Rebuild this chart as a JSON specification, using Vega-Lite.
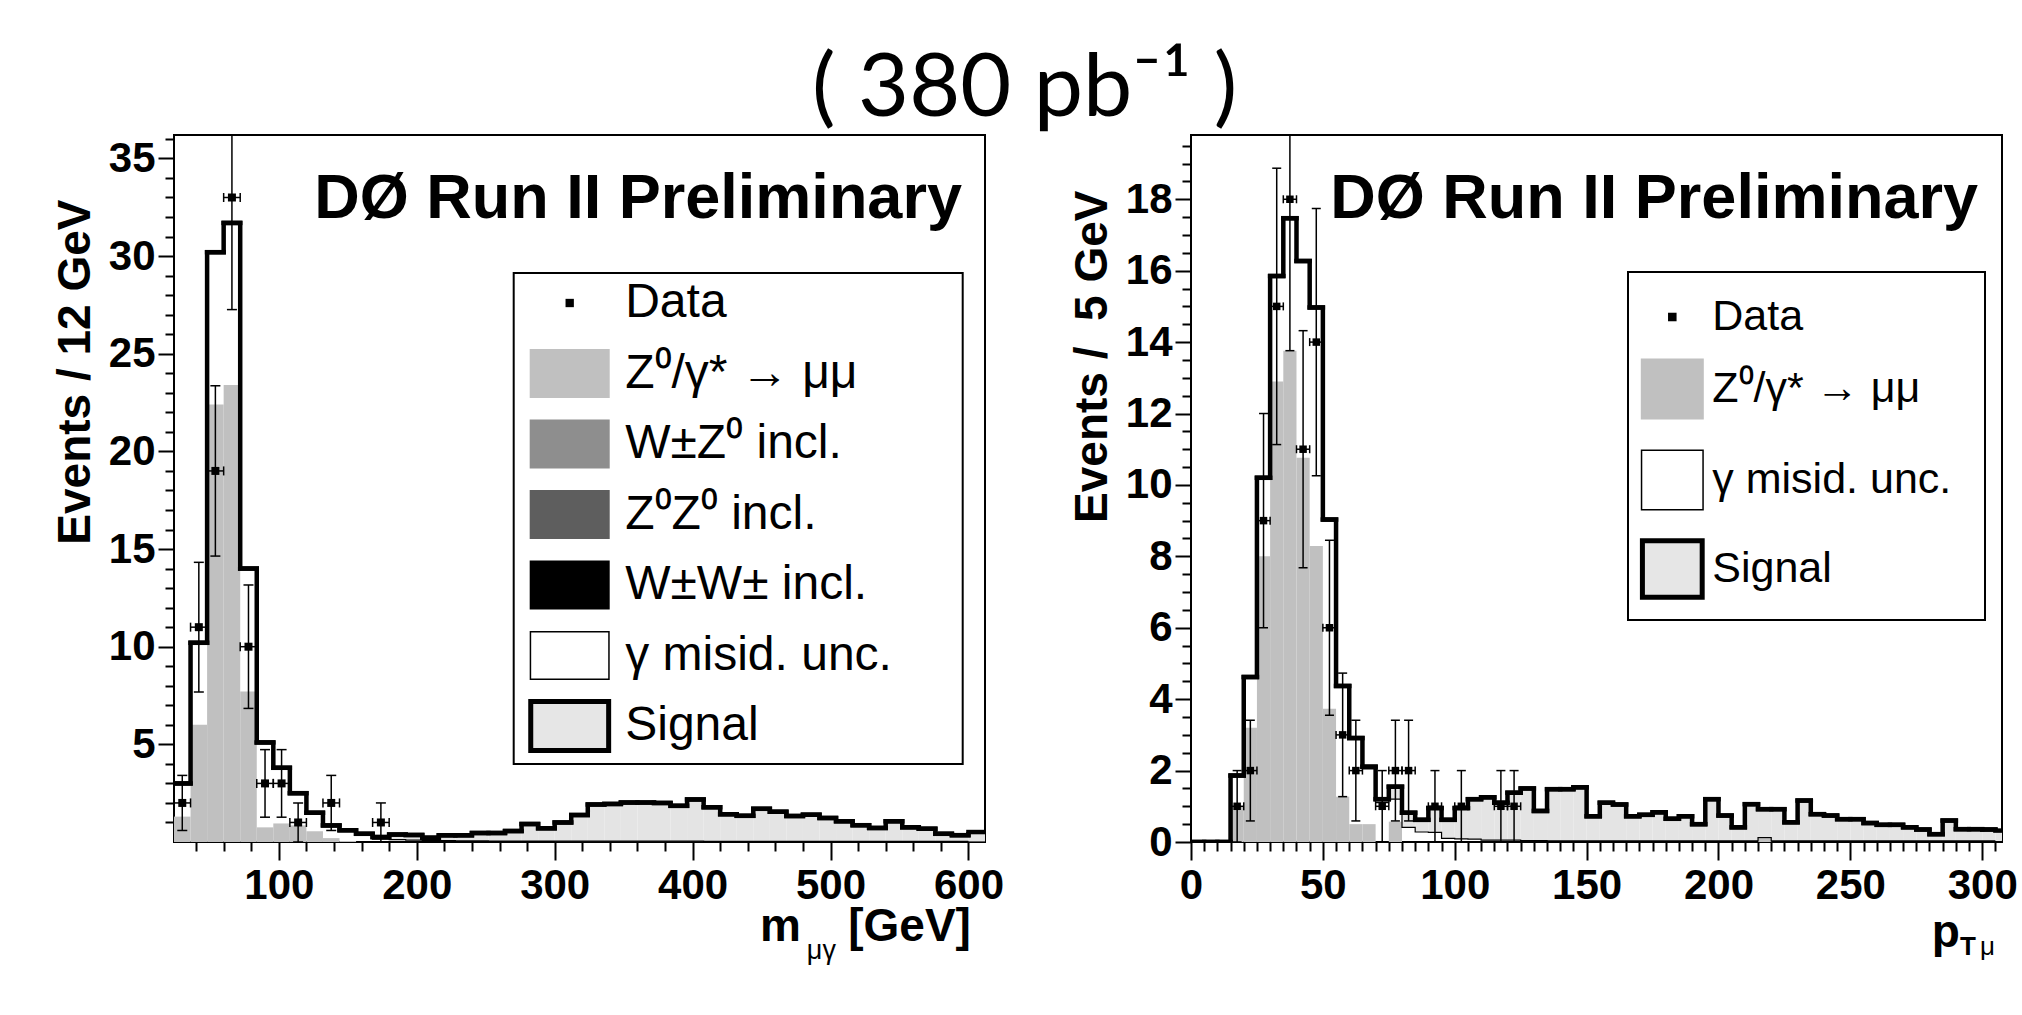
{
  "$schema": "https://vega.github.io/schema/vega-lite/v6.json",
  "background": "white",
  "padding": {"left": 51, "top": 46, "right": 4, "bottom": 4},
  "title": {"text": "( 380 pb⁻¹ )", "font": "Lato", "fontSize": 88, "fontWeight": "normal", "color": "black", "anchor": "middle", "baseline": "alphabetic", "offset": -70, "dx": -10},
  "datasets": {
    "leftBins": [
      {"lo":24,"hi":36,"z":1.3,"bkg":3.0,"tot":3.0},
      {"lo":36,"hi":48,"z":6.0,"bkg":10.2,"tot":10.2},
      {"lo":48,"hi":60,"z":22.4,"bkg":30.2,"tot":30.2},
      {"lo":60,"hi":72,"z":23.4,"bkg":31.7,"tot":31.7},
      {"lo":72,"hi":84,"z":7.7,"bkg":14.0,"tot":14.0},
      {"lo":84,"hi":96,"z":0.75,"bkg":5.1,"tot":5.1},
      {"lo":96,"hi":108,"z":0.95,"bkg":3.8,"tot":3.8},
      {"lo":108,"hi":120,"z":0.85,"bkg":2.5,"tot":2.5},
      {"lo":120,"hi":132,"z":0.55,"bkg":1.5,"tot":1.5},
      {"lo":132,"hi":144,"z":0.2,"bkg":0.85,"tot":0.85},
      {"lo":144,"hi":156,"z":0.05,"bkg":0.55,"tot":0.6},
      {"lo":156,"hi":168,"z":0,"bkg":0.35,"tot":0.42},
      {"lo":168,"hi":180,"z":0,"bkg":0.15,"tot":0.25},
      {"lo":180,"hi":192,"z":0,"bkg":0.12,"tot":0.38},
      {"lo":192,"hi":204,"z":0,"bkg":0.1,"tot":0.36},
      {"lo":204,"hi":216,"z":0,"bkg":0.08,"tot":0.22},
      {"lo":216,"hi":228,"z":0,"bkg":0.07,"tot":0.34},
      {"lo":228,"hi":240,"z":0,"bkg":0.06,"tot":0.34},
      {"lo":240,"hi":252,"z":0,"bkg":0.06,"tot":0.46},
      {"lo":252,"hi":264,"z":0,"bkg":0.05,"tot":0.46},
      {"lo":264,"hi":276,"z":0,"bkg":0.05,"tot":0.56},
      {"lo":276,"hi":288,"z":0,"bkg":0.05,"tot":0.92},
      {"lo":288,"hi":300,"z":0,"bkg":0.05,"tot":0.7},
      {"lo":300,"hi":312,"z":0,"bkg":0.04,"tot":1.0},
      {"lo":312,"hi":324,"z":0,"bkg":0.04,"tot":1.38},
      {"lo":324,"hi":336,"z":0,"bkg":0.04,"tot":1.92},
      {"lo":336,"hi":348,"z":0,"bkg":0.04,"tot":1.95},
      {"lo":348,"hi":360,"z":0,"bkg":0.04,"tot":2.02},
      {"lo":360,"hi":372,"z":0,"bkg":0.04,"tot":2.02},
      {"lo":372,"hi":384,"z":0,"bkg":0.04,"tot":2.0},
      {"lo":384,"hi":396,"z":0,"bkg":0.04,"tot":1.85},
      {"lo":396,"hi":408,"z":0,"bkg":0.04,"tot":2.18},
      {"lo":408,"hi":420,"z":0,"bkg":0.03,"tot":1.78},
      {"lo":420,"hi":432,"z":0,"bkg":0.03,"tot":1.42},
      {"lo":432,"hi":444,"z":0,"bkg":0.03,"tot":1.34},
      {"lo":444,"hi":456,"z":0,"bkg":0.03,"tot":1.7},
      {"lo":456,"hi":468,"z":0,"bkg":0.03,"tot":1.55},
      {"lo":468,"hi":480,"z":0,"bkg":0.03,"tot":1.33},
      {"lo":480,"hi":492,"z":0,"bkg":0.03,"tot":1.4},
      {"lo":492,"hi":504,"z":0,"bkg":0.03,"tot":1.23},
      {"lo":504,"hi":516,"z":0,"bkg":0.03,"tot":1.06},
      {"lo":516,"hi":528,"z":0,"bkg":0.03,"tot":0.86},
      {"lo":528,"hi":540,"z":0,"bkg":0.03,"tot":0.72},
      {"lo":540,"hi":552,"z":0,"bkg":0.03,"tot":1.06},
      {"lo":552,"hi":564,"z":0,"bkg":0.03,"tot":0.75},
      {"lo":564,"hi":576,"z":0,"bkg":0.03,"tot":0.68},
      {"lo":576,"hi":588,"z":0,"bkg":0.03,"tot":0.42},
      {"lo":588,"hi":600,"z":0,"bkg":0.03,"tot":0.35},
      {"lo":600,"hi":612,"z":0,"bkg":0.03,"tot":0.51}
    ],
    "leftData": [
      {"x":30,"xl":24,"xh":36,"n":2,"lo":0.59,"hi":3.41},
      {"x":42,"xl":36,"xh":48,"n":11,"lo":7.68,"hi":14.32},
      {"x":54,"xl":48,"xh":60,"n":19,"lo":14.64,"hi":23.36},
      {"x":66,"xl":60,"xh":72,"n":33,"lo":27.26,"hi":38.74},
      {"x":78,"xl":72,"xh":84,"n":10,"lo":6.84,"hi":13.16},
      {"x":90,"xl":84,"xh":96,"n":3,"lo":1.27,"hi":4.73},
      {"x":102,"xl":96,"xh":108,"n":3,"lo":1.27,"hi":4.73},
      {"x":114,"xl":108,"xh":120,"n":1,"lo":0,"hi":2},
      {"x":138,"xl":132,"xh":144,"n":2,"lo":0.59,"hi":3.41},
      {"x":174,"xl":168,"xh":180,"n":1,"lo":0,"hi":2}
    ],
    "rightBins": [
      {"lo":0,"hi":5,"z":0,"bkg":0,"tot":0},
      {"lo":5,"hi":10,"z":0,"bkg":0,"tot":0},
      {"lo":10,"hi":15,"z":0,"bkg":0,"tot":0},
      {"lo":15,"hi":20,"z":1.0,"bkg":1.86,"tot":1.86},
      {"lo":20,"hi":25,"z":3.2,"bkg":4.6,"tot":4.62},
      {"lo":25,"hi":30,"z":8.0,"bkg":10.18,"tot":10.2},
      {"lo":30,"hi":35,"z":12.9,"bkg":15.83,"tot":15.85},
      {"lo":35,"hi":40,"z":13.76,"bkg":17.45,"tot":17.47},
      {"lo":40,"hi":45,"z":10.76,"bkg":16.25,"tot":16.27},
      {"lo":45,"hi":50,"z":8.29,"bkg":14.95,"tot":14.97},
      {"lo":50,"hi":55,"z":3.73,"bkg":9.0,"tot":9.03},
      {"lo":55,"hi":60,"z":1.27,"bkg":4.35,"tot":4.37},
      {"lo":60,"hi":65,"z":0.5,"bkg":2.87,"tot":2.91},
      {"lo":65,"hi":70,"z":0.5,"bkg":2.05,"tot":2.11},
      {"lo":70,"hi":75,"z":0,"bkg":1.1,"tot":1.2},
      {"lo":75,"hi":80,"z":0.57,"bkg":1.2,"tot":1.55},
      {"lo":80,"hi":85,"z":0,"bkg":0.41,"tot":0.82},
      {"lo":85,"hi":90,"z":0,"bkg":0.28,"tot":0.62},
      {"lo":90,"hi":95,"z":0,"bkg":0.27,"tot":0.95},
      {"lo":95,"hi":100,"z":0,"bkg":0.1,"tot":0.62},
      {"lo":100,"hi":105,"z":0,"bkg":0.09,"tot":0.95},
      {"lo":105,"hi":110,"z":0,"bkg":0.08,"tot":1.2},
      {"lo":110,"hi":115,"z":0,"bkg":0.05,"tot":1.25},
      {"lo":115,"hi":120,"z":0,"bkg":0.05,"tot":1.1},
      {"lo":120,"hi":125,"z":0,"bkg":0.05,"tot":1.38},
      {"lo":125,"hi":130,"z":0,"bkg":0.04,"tot":1.5},
      {"lo":130,"hi":135,"z":0,"bkg":0.04,"tot":0.87},
      {"lo":135,"hi":140,"z":0,"bkg":0.03,"tot":1.48},
      {"lo":140,"hi":145,"z":0,"bkg":0.03,"tot":1.48},
      {"lo":145,"hi":150,"z":0,"bkg":0.03,"tot":1.53},
      {"lo":150,"hi":155,"z":0,"bkg":0.03,"tot":0.72},
      {"lo":155,"hi":160,"z":0,"bkg":0.03,"tot":1.1},
      {"lo":160,"hi":165,"z":0,"bkg":0.03,"tot":1.05},
      {"lo":165,"hi":170,"z":0,"bkg":0.03,"tot":0.72},
      {"lo":170,"hi":175,"z":0,"bkg":0.03,"tot":0.76},
      {"lo":175,"hi":180,"z":0,"bkg":0.03,"tot":0.83},
      {"lo":180,"hi":185,"z":0,"bkg":0.03,"tot":0.65},
      {"lo":185,"hi":190,"z":0,"bkg":0.03,"tot":0.72},
      {"lo":190,"hi":195,"z":0,"bkg":0.03,"tot":0.5},
      {"lo":195,"hi":200,"z":0,"bkg":0.03,"tot":1.2},
      {"lo":200,"hi":205,"z":0,"bkg":0.03,"tot":0.74},
      {"lo":205,"hi":210,"z":0,"bkg":0.03,"tot":0.41},
      {"lo":210,"hi":215,"z":0,"bkg":0.03,"tot":1.06},
      {"lo":215,"hi":220,"z":0.1,"bkg":0.12,"tot":0.92},
      {"lo":220,"hi":225,"z":0,"bkg":0.03,"tot":0.92},
      {"lo":225,"hi":230,"z":0,"bkg":0.03,"tot":0.55},
      {"lo":230,"hi":235,"z":0,"bkg":0.03,"tot":1.16},
      {"lo":235,"hi":240,"z":0,"bkg":0.03,"tot":0.78},
      {"lo":240,"hi":245,"z":0,"bkg":0.03,"tot":0.74},
      {"lo":245,"hi":250,"z":0,"bkg":0.03,"tot":0.64},
      {"lo":250,"hi":255,"z":0,"bkg":0.03,"tot":0.64},
      {"lo":255,"hi":260,"z":0,"bkg":0.03,"tot":0.53},
      {"lo":260,"hi":265,"z":0,"bkg":0.03,"tot":0.48},
      {"lo":265,"hi":270,"z":0,"bkg":0.03,"tot":0.48},
      {"lo":270,"hi":275,"z":0,"bkg":0.03,"tot":0.41},
      {"lo":275,"hi":280,"z":0,"bkg":0.03,"tot":0.35},
      {"lo":280,"hi":285,"z":0,"bkg":0.03,"tot":0.22},
      {"lo":285,"hi":290,"z":0,"bkg":0.03,"tot":0.6},
      {"lo":290,"hi":295,"z":0,"bkg":0.03,"tot":0.36},
      {"lo":295,"hi":300,"z":0,"bkg":0.03,"tot":0.36},
      {"lo":300,"hi":305,"z":0,"bkg":0.03,"tot":0.35},
      {"lo":305,"hi":310,"z":0,"bkg":0.03,"tot":0.32}
    ],
    "rightData": [
      {"x":17.5,"xl":15,"xh":20,"n":1,"lo":0,"hi":2},
      {"x":22.5,"xl":20,"xh":25,"n":2,"lo":0.59,"hi":3.41},
      {"x":27.5,"xl":25,"xh":30,"n":9,"lo":6,"hi":12},
      {"x":32.5,"xl":30,"xh":35,"n":15,"lo":11.13,"hi":18.87},
      {"x":37.5,"xl":35,"xh":40,"n":18,"lo":13.76,"hi":22.24},
      {"x":42.5,"xl":40,"xh":45,"n":11,"lo":7.68,"hi":14.32},
      {"x":47.5,"xl":45,"xh":50,"n":14,"lo":10.26,"hi":17.74},
      {"x":52.5,"xl":50,"xh":55,"n":6,"lo":3.55,"hi":8.45},
      {"x":57.5,"xl":55,"xh":60,"n":3,"lo":1.27,"hi":4.73},
      {"x":62.5,"xl":60,"xh":65,"n":2,"lo":0.59,"hi":3.41},
      {"x":72.5,"xl":70,"xh":75,"n":1,"lo":0,"hi":2},
      {"x":77.5,"xl":75,"xh":80,"n":2,"lo":0.59,"hi":3.41},
      {"x":82.5,"xl":80,"xh":85,"n":2,"lo":0.59,"hi":3.41},
      {"x":92.5,"xl":90,"xh":95,"n":1,"lo":0,"hi":2},
      {"x":102.5,"xl":100,"xh":105,"n":1,"lo":0,"hi":2},
      {"x":117.5,"xl":115,"xh":120,"n":1,"lo":0,"hi":2},
      {"x":122.5,"xl":120,"xh":125,"n":1,"lo":0,"hi":2}
    ]
  },
  "spacing": 206,
  "bounds": "flush",
  "resolve": {
    "scale": {"fill": "independent", "stroke": "independent", "shape": "independent"},
    "legend": {"fill": "independent", "stroke": "independent", "shape": "independent"}
  },
  "hconcat": [
    {
      "width": 811,
      "height": 707,
      "resolve": {"axis": {"x": "independent", "y": "independent"}},
      "layer": [
        {
          "data": {"name": "leftBins"},
          "mark": {"type": "rect", "fill": "#c0c0c0"},
          "encoding": {
            "x": {"field": "lo", "type": "quantitative", "scale": {"domain": [24, 612], "nice": false, "zero": false},
                  "axis": {"orient": "bottom", "values": [100, 200, 300, 400, 500, 600], "tickSize": 18, "labelPadding": 5, "title": null}},
            "x2": {"field": "hi"},
            "y": {"field": "z", "type": "quantitative", "scale": {"domain": [0, 36.2], "nice": false, "zero": false},
                  "axis": {"orient": "left", "values": [5, 10, 15, 20, 25, 30, 35], "tickSize": 16, "labelPadding": 3, "title": "Events / 12 GeV", "titleAngle": 270, "titleAlign": "right", "titleBaseline": "middle", "titleX": -99, "titleY": 64}},
            "y2": {"datum": 0}
          }
        },
        {
          "data": {"name": "leftBins"},
          "mark": {"type": "rect", "fill": "#e4e4e4"},
          "encoding": {
            "x": {"field": "lo", "type": "quantitative", "scale": {"domain": [24, 612], "nice": false, "zero": false},
                  "axis": {"orient": "bottom", "values": [40,60,80,120,140,160,180,220,240,260,280,320,340,360,380,420,440,460,480,520,540,560,580], "tickSize": 9, "labels": false, "title": null}},
            "x2": {"field": "hi"},
            "y": {"field": "tot", "type": "quantitative", "scale": {"domain": [0, 36.2], "nice": false, "zero": false},
                  "axis": {"orient": "left", "values": [1,2,3,4,6,7,8,9,11,12,13,14,16,17,18,19,21,22,23,24,26,27,28,29,31,32,33,34,36], "tickSize": 9, "labels": false, "title": null}},
            "y2": {"field": "bkg"}
          }
        },
        {
          "data": {"name": "leftBins"},
          "mark": {"type": "line", "interpolate": "step-after", "stroke": "black", "strokeWidth": 1.2, "clip": true},
          "encoding": {
            "x": {"field": "lo", "type": "quantitative", "scale": {"domain": [24, 612], "nice": false, "zero": false}, "axis": null},
            "y": {"field": "bkg", "type": "quantitative", "scale": {"domain": [0, 36.2], "nice": false, "zero": false}, "axis": null}
          }
        },
        {
          "data": {"name": "leftBins"},
          "mark": {"type": "line", "interpolate": "step-after", "stroke": "black", "strokeWidth": 4.5, "strokeJoin": "miter", "clip": true},
          "encoding": {
            "x": {"field": "lo", "type": "quantitative", "scale": {"domain": [24, 612], "nice": false, "zero": false}, "axis": null},
            "y": {"field": "tot", "type": "quantitative", "scale": {"domain": [0, 36.2], "nice": false, "zero": false}, "axis": null}
          }
        },
        {
          "data": {"name": "leftBins"},
          "mark": {"type": "rule", "stroke": "black", "strokeWidth": 4.5, "strokeCap": "square", "clip": true},
          "encoding": {
            "x": {"field": "lo", "type": "quantitative", "scale": {"domain": [24, 612], "nice": false, "zero": false}, "axis": null},
            "x2": {"field": "hi"},
            "y": {"field": "tot", "type": "quantitative", "scale": {"domain": [0, 36.2], "nice": false, "zero": false}, "axis": null}
          }
        },
        {
          "data": {"name": "leftData"},
          "mark": {"type": "rule", "stroke": "black", "strokeWidth": 1.5, "clip": true},
          "encoding": {
            "x": {"field": "x", "type": "quantitative", "scale": {"domain": [24, 612], "nice": false, "zero": false}, "axis": null},
            "y": {"field": "lo", "type": "quantitative", "scale": {"domain": [0, 36.2], "nice": false, "zero": false}, "axis": null},
            "y2": {"field": "hi"}
          }
        },
        {
          "data": {"name": "leftData"},
          "mark": {"type": "rule", "stroke": "black", "strokeWidth": 1.5, "clip": true},
          "encoding": {
            "x": {"field": "xl", "type": "quantitative", "scale": {"domain": [24, 612], "nice": false, "zero": false}, "axis": null},
            "x2": {"field": "xh"},
            "y": {"field": "n", "type": "quantitative", "scale": {"domain": [0, 36.2], "nice": false, "zero": false}, "axis": null}
          }
        },
        {
          "data": {"name": "leftData"},
          "mark": {"type": "tick", "orient": "horizontal", "size": 10, "thickness": 1.5, "color": "black", "opacity": 1, "clip": true},
          "encoding": {
            "x": {"field": "x", "type": "quantitative", "scale": {"domain": [24, 612], "nice": false, "zero": false}, "axis": null},
            "y": {"field": "lo", "type": "quantitative", "scale": {"domain": [0, 36.2], "nice": false, "zero": false}, "axis": null}
          }
        },
        {
          "data": {"name": "leftData"},
          "mark": {"type": "tick", "orient": "horizontal", "size": 10, "thickness": 1.5, "color": "black", "opacity": 1, "clip": true},
          "encoding": {
            "x": {"field": "x", "type": "quantitative", "scale": {"domain": [24, 612], "nice": false, "zero": false}, "axis": null},
            "y": {"field": "hi", "type": "quantitative", "scale": {"domain": [0, 36.2], "nice": false, "zero": false}, "axis": null}
          }
        },
        {
          "data": {"name": "leftData"},
          "mark": {"type": "tick", "orient": "vertical", "size": 9, "thickness": 1.5, "color": "black", "opacity": 1, "clip": true},
          "encoding": {
            "x": {"field": "xl", "type": "quantitative", "scale": {"domain": [24, 612], "nice": false, "zero": false}, "axis": null},
            "y": {"field": "n", "type": "quantitative", "scale": {"domain": [0, 36.2], "nice": false, "zero": false}, "axis": null}
          }
        },
        {
          "data": {"name": "leftData"},
          "mark": {"type": "tick", "orient": "vertical", "size": 9, "thickness": 1.5, "color": "black", "opacity": 1, "clip": true},
          "encoding": {
            "x": {"field": "xh", "type": "quantitative", "scale": {"domain": [24, 612], "nice": false, "zero": false}, "axis": null},
            "y": {"field": "n", "type": "quantitative", "scale": {"domain": [0, 36.2], "nice": false, "zero": false}, "axis": null}
          }
        },
        {
          "data": {"name": "leftData"},
          "mark": {"type": "square", "size": 64, "color": "black", "filled": true, "opacity": 1, "clip": true},
          "encoding": {
            "x": {"field": "x", "type": "quantitative", "scale": {"domain": [24, 612], "nice": false, "zero": false}, "axis": null},
            "y": {"field": "n", "type": "quantitative", "scale": {"domain": [0, 36.2], "nice": false, "zero": false}, "axis": null}
          }
        },
        {
          "data": {"values": [{}]},
          "mark": {"type": "text", "text": "DØ Run II Preliminary", "font": "Liberation Sans", "fontWeight": "bold", "fontSize": 63, "align": "right", "baseline": "alphabetic", "color": "black"},
          "encoding": {
            "x": {"datum": 595.3, "type": "quantitative", "scale": {"domain": [24, 612], "nice": false, "zero": false}, "axis": null},
            "y": {"datum": 31.95, "type": "quantitative", "scale": {"domain": [0, 36.2], "nice": false, "zero": false}, "axis": null}
          }
        },
        {
          "data": {"values": [{}]},
          "mark": {"type": "text", "text": "[GeV]", "font": "Liberation Sans", "fontWeight": "bold", "fontSize": 46, "align": "right", "baseline": "alphabetic", "color": "black"},
          "encoding": {
            "x": {"datum": 601.8, "type": "quantitative", "scale": {"domain": [24, 612], "nice": false, "zero": false}, "axis": null},
            "y": {"datum": -5.07, "type": "quantitative", "scale": {"domain": [0, 36.2], "nice": false, "zero": false}, "axis": null}
          }
        },
        {
          "data": {"values": [{}]},
          "mark": {"type": "text", "text": "μγ", "font": "Liberation Sans", "fontSize": 27, "align": "right", "baseline": "alphabetic", "color": "black", "dx": -135, "dy": 18},
          "encoding": {
            "x": {"datum": 601.8, "type": "quantitative", "scale": {"domain": [24, 612], "nice": false, "zero": false}, "axis": null},
            "y": {"datum": -5.07, "type": "quantitative", "scale": {"domain": [0, 36.2], "nice": false, "zero": false}, "axis": null}
          }
        },
        {
          "data": {"values": [{}]},
          "mark": {"type": "text", "text": "m", "font": "Liberation Sans", "fontWeight": "bold", "fontSize": 46, "align": "right", "baseline": "alphabetic", "color": "black", "dx": -170},
          "encoding": {
            "x": {"datum": 601.8, "type": "quantitative", "scale": {"domain": [24, 612], "nice": false, "zero": false}, "axis": null},
            "y": {"datum": -5.07, "type": "quantitative", "scale": {"domain": [0, 36.2], "nice": false, "zero": false}, "axis": null}
          }
        },
        {
          "data": {"values": []},
          "mark": {"type": "point", "filled": true},
          "encoding": {
            "fill": {"field": "cat", "type": "nominal",
              "scale": {"domain": ["Data", "Z⁰/γ* → μμ", "W±Z⁰ incl.", "Z⁰Z⁰ incl.", "W±W± incl.", "γ misid. unc.", "Signal"],
                        "range": ["black", "#c0c0c0", "#8e8e8e", "#5e5e5e", "black", "black", "#e6e6e6"]},
              "legend": {"orient": "none", "legendX": 339.7, "legendY": 138, "direction": "vertical",
                "title": "\u2800", "titleOrient": "right", "titlePadding": 64, "titleFontSize": 6, "titleColor": "white",
                "padding": 3, "strokeColor": "black", "fillColor": "white",
                "labelFont": "Liberation Sans", "labelFontSize": 48, "labelColor": "black", "labelLimit": 0,
                "symbolSize": 2401, "symbolStrokeWidth": 5, "symbolOpacity": 1, "symbolOffset": 26, "labelOffset": 28.5, "rowPadding": 0.5,
                "encode": {"legend": {"update": {"strokeWidth": {"value": 2}}}}}},
            "stroke": {"field": "cat", "type": "nominal",
              "scale": {"domain": ["Data", "Z⁰/γ* → μμ", "W±Z⁰ incl.", "Z⁰Z⁰ incl.", "W±W± incl.", "γ misid. unc.", "Signal"],
                        "range": ["transparent", "transparent", "transparent", "transparent", "transparent", "transparent", "black"]},
              "legend": {"orient": "none"}},
            "shape": {"field": "cat", "type": "nominal",
              "scale": {"domain": ["Data", "Z⁰/γ* → μμ", "W±Z⁰ incl.", "Z⁰Z⁰ incl.", "W±W± incl.", "γ misid. unc.", "Signal"],
                        "range": ["M-1.633,-1M1.633,1M-0.17,-0.17H0.17V0.17H-0.17Z", "M-1.633,-1H1.633V1H-1.633Z", "M-1.633,-1H1.633V1H-1.633Z", "M-1.633,-1H1.633V1H-1.633Z", "M-1.633,-1H1.633V1H-1.633Z", "M-1.633,-1H1.633V1H-1.633ZM-1.572,-0.939V0.939H1.572V-0.939Z", "M-1.59,-1H1.59V1H-1.59Z"]},
              "legend": {"orient": "none"}}
          }
        }
      ]
    },
    {
      "width": 811,
      "height": 707,
      "resolve": {"axis": {"x": "independent", "y": "independent"}},
      "layer": [
        {
          "data": {"name": "rightBins"},
          "mark": {"type": "rect", "fill": "#c0c0c0"},
          "encoding": {
            "x": {"field": "lo", "type": "quantitative", "scale": {"domain": [0, 307.5], "nice": false, "zero": false},
                  "axis": {"orient": "bottom", "values": [0, 50, 100, 150, 200, 250, 300], "tickSize": 18, "labelPadding": 5, "title": null}},
            "x2": {"field": "hi"},
            "y": {"field": "z", "type": "quantitative", "scale": {"domain": [0, 19.8], "nice": false, "zero": false},
                  "axis": {"orient": "left", "values": [0, 2, 4, 6, 8, 10, 12, 14, 16, 18], "tickSize": 16, "labelPadding": 3, "title": "Events / \u00a05 GeV", "titleAngle": 270, "titleAlign": "right", "titleBaseline": "middle", "titleX": -98.5, "titleY": 55}},
            "y2": {"datum": 0}
          }
        },
        {
          "data": {"name": "rightBins"},
          "mark": {"type": "rect", "fill": "#e4e4e4", "clip": true},
          "encoding": {
            "x": {"field": "lo", "type": "quantitative", "scale": {"domain": [0, 307.5], "nice": false, "zero": false},
                  "axis": {"orient": "bottom", "values": [5,10,15,20,25,30,35,40,45,55,60,65,70,75,80,85,90,95,105,110,115,120,125,130,135,140,145,155,160,165,170,175,180,185,190,195,205,210,215,220,225,230,235,240,245,255,260,265,270,275,280,285,290,295,305], "tickSize": 9, "labels": false, "title": null}},
            "x2": {"field": "hi"},
            "y": {"field": "tot", "type": "quantitative", "scale": {"domain": [0, 19.8], "nice": false, "zero": false},
                  "axis": {"orient": "left", "values": [0.5,1,1.5,2.5,3,3.5,4.5,5,5.5,6.5,7,7.5,8.5,9,9.5,10.5,11,11.5,12.5,13,13.5,14.5,15,15.5,16.5,17,17.5,18.5,19,19.5], "tickSize": 9, "labels": false, "title": null}},
            "y2": {"field": "bkg"}
          }
        },
        {
          "data": {"name": "rightBins"},
          "mark": {"type": "line", "interpolate": "step-after", "stroke": "black", "strokeWidth": 1.2, "clip": true},
          "encoding": {
            "x": {"field": "lo", "type": "quantitative", "scale": {"domain": [0, 307.5], "nice": false, "zero": false}, "axis": null},
            "y": {"field": "bkg", "type": "quantitative", "scale": {"domain": [0, 19.8], "nice": false, "zero": false}, "axis": null}
          }
        },
        {
          "data": {"name": "rightBins"},
          "mark": {"type": "line", "interpolate": "step-after", "stroke": "black", "strokeWidth": 4.5, "strokeJoin": "miter", "clip": true},
          "encoding": {
            "x": {"field": "lo", "type": "quantitative", "scale": {"domain": [0, 307.5], "nice": false, "zero": false}, "axis": null},
            "y": {"field": "tot", "type": "quantitative", "scale": {"domain": [0, 19.8], "nice": false, "zero": false}, "axis": null}
          }
        },
        {
          "data": {"name": "rightBins"},
          "mark": {"type": "rule", "stroke": "black", "strokeWidth": 4.5, "strokeCap": "square", "clip": true},
          "encoding": {
            "x": {"field": "lo", "type": "quantitative", "scale": {"domain": [0, 307.5], "nice": false, "zero": false}, "axis": null},
            "x2": {"field": "hi"},
            "y": {"field": "tot", "type": "quantitative", "scale": {"domain": [0, 19.8], "nice": false, "zero": false}, "axis": null}
          }
        },
        {
          "data": {"name": "rightData"},
          "mark": {"type": "rule", "stroke": "black", "strokeWidth": 1.5, "clip": true},
          "encoding": {
            "x": {"field": "x", "type": "quantitative", "scale": {"domain": [0, 307.5], "nice": false, "zero": false}, "axis": null},
            "y": {"field": "lo", "type": "quantitative", "scale": {"domain": [0, 19.8], "nice": false, "zero": false}, "axis": null},
            "y2": {"field": "hi"}
          }
        },
        {
          "data": {"name": "rightData"},
          "mark": {"type": "rule", "stroke": "black", "strokeWidth": 1.5, "clip": true},
          "encoding": {
            "x": {"field": "xl", "type": "quantitative", "scale": {"domain": [0, 307.5], "nice": false, "zero": false}, "axis": null},
            "x2": {"field": "xh"},
            "y": {"field": "n", "type": "quantitative", "scale": {"domain": [0, 19.8], "nice": false, "zero": false}, "axis": null}
          }
        },
        {
          "data": {"name": "rightData"},
          "mark": {"type": "tick", "orient": "horizontal", "size": 9, "thickness": 1.5, "color": "black", "opacity": 1, "clip": true},
          "encoding": {
            "x": {"field": "x", "type": "quantitative", "scale": {"domain": [0, 307.5], "nice": false, "zero": false}, "axis": null},
            "y": {"field": "lo", "type": "quantitative", "scale": {"domain": [0, 19.8], "nice": false, "zero": false}, "axis": null}
          }
        },
        {
          "data": {"name": "rightData"},
          "mark": {"type": "tick", "orient": "horizontal", "size": 9, "thickness": 1.5, "color": "black", "opacity": 1, "clip": true},
          "encoding": {
            "x": {"field": "x", "type": "quantitative", "scale": {"domain": [0, 307.5], "nice": false, "zero": false}, "axis": null},
            "y": {"field": "hi", "type": "quantitative", "scale": {"domain": [0, 19.8], "nice": false, "zero": false}, "axis": null}
          }
        },
        {
          "data": {"name": "rightData"},
          "mark": {"type": "tick", "orient": "vertical", "size": 8, "thickness": 1.5, "color": "black", "opacity": 1, "clip": true},
          "encoding": {
            "x": {"field": "xl", "type": "quantitative", "scale": {"domain": [0, 307.5], "nice": false, "zero": false}, "axis": null},
            "y": {"field": "n", "type": "quantitative", "scale": {"domain": [0, 19.8], "nice": false, "zero": false}, "axis": null}
          }
        },
        {
          "data": {"name": "rightData"},
          "mark": {"type": "tick", "orient": "vertical", "size": 8, "thickness": 1.5, "color": "black", "opacity": 1, "clip": true},
          "encoding": {
            "x": {"field": "xh", "type": "quantitative", "scale": {"domain": [0, 307.5], "nice": false, "zero": false}, "axis": null},
            "y": {"field": "n", "type": "quantitative", "scale": {"domain": [0, 19.8], "nice": false, "zero": false}, "axis": null}
          }
        },
        {
          "data": {"name": "rightData"},
          "mark": {"type": "square", "size": 56, "color": "black", "filled": true, "opacity": 1, "clip": true},
          "encoding": {
            "x": {"field": "x", "type": "quantitative", "scale": {"domain": [0, 307.5], "nice": false, "zero": false}, "axis": null},
            "y": {"field": "n", "type": "quantitative", "scale": {"domain": [0, 19.8], "nice": false, "zero": false}, "axis": null}
          }
        },
        {
          "data": {"values": [{}]},
          "mark": {"type": "text", "text": "DØ Run II Preliminary", "font": "Liberation Sans", "fontWeight": "bold", "fontSize": 63, "align": "right", "baseline": "alphabetic", "color": "black"},
          "encoding": {
            "x": {"datum": 298.4, "type": "quantitative", "scale": {"domain": [0, 307.5], "nice": false, "zero": false}, "axis": null},
            "y": {"datum": 17.47, "type": "quantitative", "scale": {"domain": [0, 19.8], "nice": false, "zero": false}, "axis": null}
          }
        },
        {
          "data": {"values": [{}]},
          "mark": {"type": "text", "text": "μ", "font": "Liberation Sans", "fontSize": 26, "align": "right", "baseline": "alphabetic", "color": "black", "dy": 8},
          "encoding": {
            "x": {"datum": 304.8, "type": "quantitative", "scale": {"domain": [0, 307.5], "nice": false, "zero": false}, "axis": null},
            "y": {"datum": -2.94, "type": "quantitative", "scale": {"domain": [0, 19.8], "nice": false, "zero": false}, "axis": null}
          }
        },
        {
          "data": {"values": [{}]},
          "mark": {"type": "text", "text": "T", "font": "Liberation Sans", "fontWeight": "bold", "fontSize": 26, "align": "right", "baseline": "alphabetic", "color": "black", "dx": -19, "dy": 8},
          "encoding": {
            "x": {"datum": 304.8, "type": "quantitative", "scale": {"domain": [0, 307.5], "nice": false, "zero": false}, "axis": null},
            "y": {"datum": -2.94, "type": "quantitative", "scale": {"domain": [0, 19.8], "nice": false, "zero": false}, "axis": null}
          }
        },
        {
          "data": {"values": [{}]},
          "mark": {"type": "text", "text": "p", "font": "Liberation Sans", "fontWeight": "bold", "fontSize": 46, "align": "right", "baseline": "alphabetic", "color": "black", "dx": -35},
          "encoding": {
            "x": {"datum": 304.8, "type": "quantitative", "scale": {"domain": [0, 307.5], "nice": false, "zero": false}, "axis": null},
            "y": {"datum": -2.94, "type": "quantitative", "scale": {"domain": [0, 19.8], "nice": false, "zero": false}, "axis": null}
          }
        },
        {
          "data": {"values": []},
          "mark": {"type": "point", "filled": true},
          "encoding": {
            "fill": {"field": "cat", "type": "nominal",
              "scale": {"domain": ["Data", "Z⁰/γ* → μμ", "γ misid. unc.", "Signal"],
                        "range": ["black", "#c0c0c0", "black", "#e6e6e6"]},
              "legend": {"orient": "none", "legendX": 437, "legendY": 137, "direction": "vertical",
                "title": "\u2800", "titleOrient": "right", "titlePadding": 18, "titleFontSize": 6, "titleColor": "white",
                "padding": 12, "strokeColor": "black", "fillColor": "white",
                "labelFont": "Liberation Sans", "labelFontSize": 43, "labelColor": "black", "labelLimit": 0,
                "symbolSize": 3721, "symbolStrokeWidth": 5, "symbolOpacity": 1, "symbolOffset": -0.7, "labelOffset": 7, "rowPadding": 9,
                "encode": {"legend": {"update": {"strokeWidth": {"value": 2}}}}}},
            "stroke": {"field": "cat", "type": "nominal",
              "scale": {"domain": ["Data", "Z⁰/γ* → μμ", "γ misid. unc.", "Signal"],
                        "range": ["transparent", "transparent", "transparent", "black"]},
              "legend": {"orient": "none"}},
            "shape": {"field": "cat", "type": "nominal",
              "scale": {"domain": ["Data", "Z⁰/γ* → μμ", "γ misid. unc.", "Signal"],
                        "range": ["M-0.14,-0.14H0.14V0.14H-0.14Z", "M-1.033,-1H1.033V1H-1.033Z", "M-1.033,-1H1.033V1H-1.033ZM-0.984,-0.951V0.951H0.984V-0.951Z", "M-0.98,-0.93H0.98V0.93H-0.98Z"]},
              "legend": {"orient": "none"}}
          }
        }
      ]
    }
  ],
  "config": {
    "view": {"stroke": "black", "strokeWidth": 2},
    "axis": {"domain": false, "grid": false, "tickColor": "black", "tickWidth": 2, "labelColor": "black", "labelFont": "Liberation Sans", "labelFontWeight": "bold", "labelFontSize": 42, "titleColor": "black", "titleFont": "Liberation Sans", "titleFontWeight": "bold", "titleFontSize": 46, "labelFlush": false, "labelOverlap": false},
    "text": {"font": "Liberation Sans", "color": "black"}
  }
}
